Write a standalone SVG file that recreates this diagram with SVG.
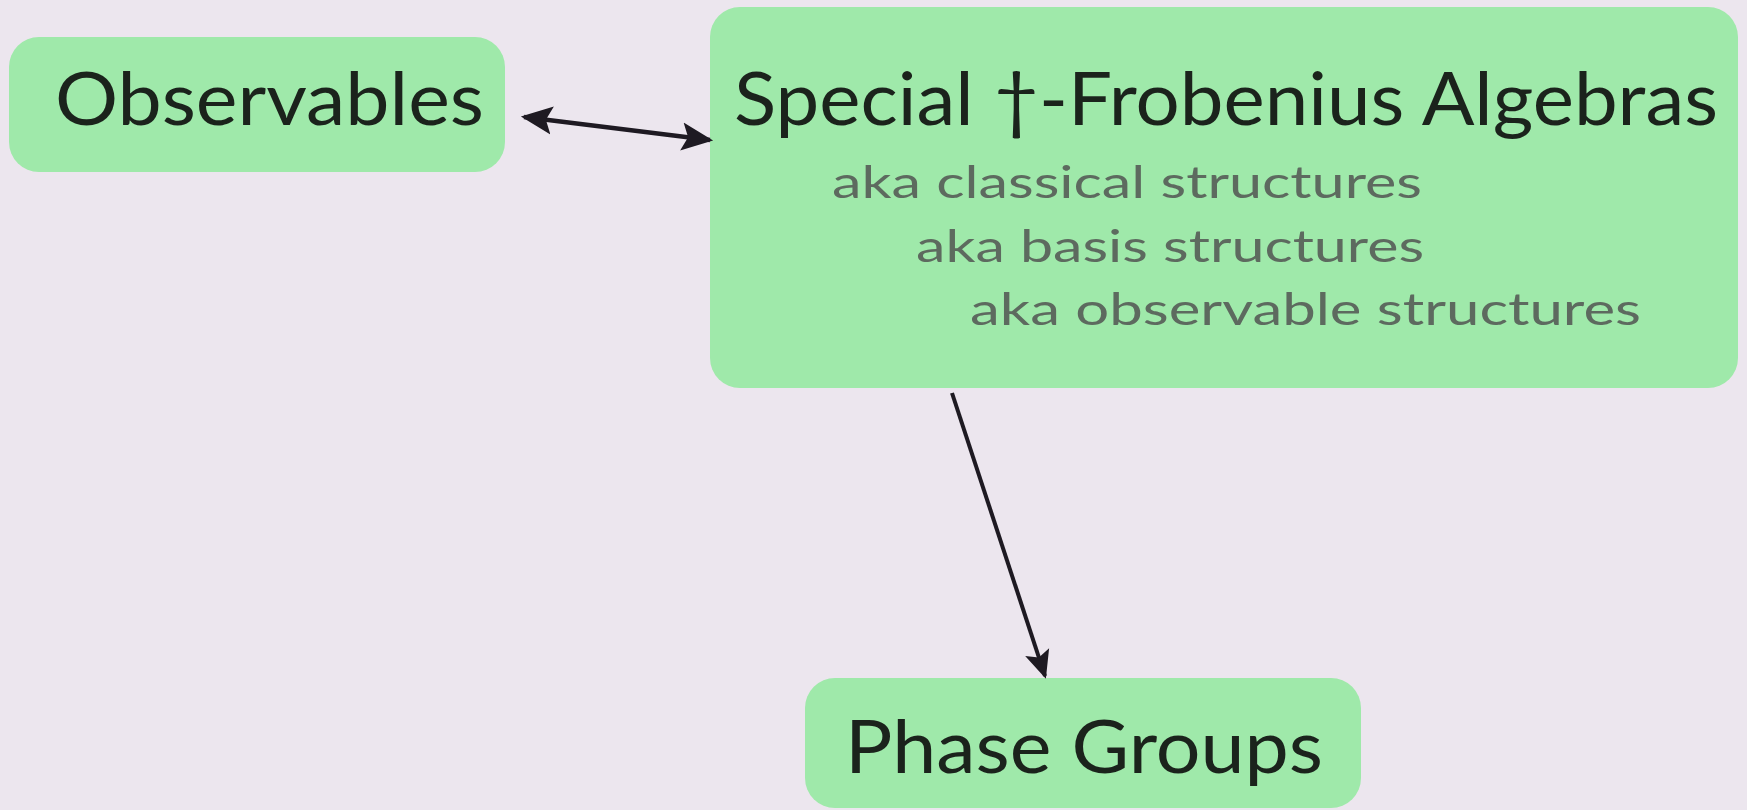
<svg xmlns="http://www.w3.org/2000/svg" width="1747" height="810" viewBox="0 0 1747 810">
  <style>
    .box { fill: #9fe9aa; }
    .main { font-family: Lato, "Liberation Sans", sans-serif; font-size: 74px; fill: #1b231c; }
    .sub { font-family: Lato, "Liberation Sans", sans-serif; font-size: 45px; fill: #5d6a5f; }
    .edge { stroke: #1e1a22; fill: none; stroke-linecap: butt; }
  </style>
  <defs>
    <marker id="head" viewBox="0 0 10 10" refX="9" refY="5" markerWidth="7" markerHeight="7" markerUnits="strokeWidth" orient="auto-start-reverse">
      <path d="M0,0.5 L10,5 L0,9.5 L2,5 Z" fill="#1e1a22"/>
    </marker>
  </defs>
  <rect width="1747" height="810" fill="#ece6ee"/>

  <g id="observables">
    <rect class="box" x="9" y="37" width="496" height="135" rx="30"/>
    <text class="main" x="55" y="125" textLength="429" lengthAdjust="spacingAndGlyphs">Observables</text>
  </g>

  <g id="frobenius">
    <rect class="box" x="710" y="7" width="1028" height="381" rx="30"/>
    <text class="main" x="734" y="125" textLength="984" lengthAdjust="spacingAndGlyphs">Special †-Frobenius Algebras</text>
    <text class="sub" x="832" y="198" textLength="590" lengthAdjust="spacingAndGlyphs">aka classical structures</text>
    <text class="sub" x="916" y="262" textLength="508" lengthAdjust="spacingAndGlyphs">aka basis structures</text>
    <text class="sub" x="970" y="325" textLength="671" lengthAdjust="spacingAndGlyphs">aka observable structures</text>
  </g>

  <g id="phase-groups">
    <rect class="box" x="805" y="678" width="556" height="130" rx="30"/>
    <text class="main" x="845" y="773" textLength="478" lengthAdjust="spacingAndGlyphs">Phase Groups</text>
  </g>

  <g id="connectors">
    <line class="edge" x1="524" y1="117" x2="710" y2="140" stroke-width="4.5" marker-start="url(#head)" marker-end="url(#head)"/>
    <line class="edge" x1="952" y1="393" x2="1045" y2="676" stroke-width="4" marker-end="url(#head)"/>
  </g>
</svg>
